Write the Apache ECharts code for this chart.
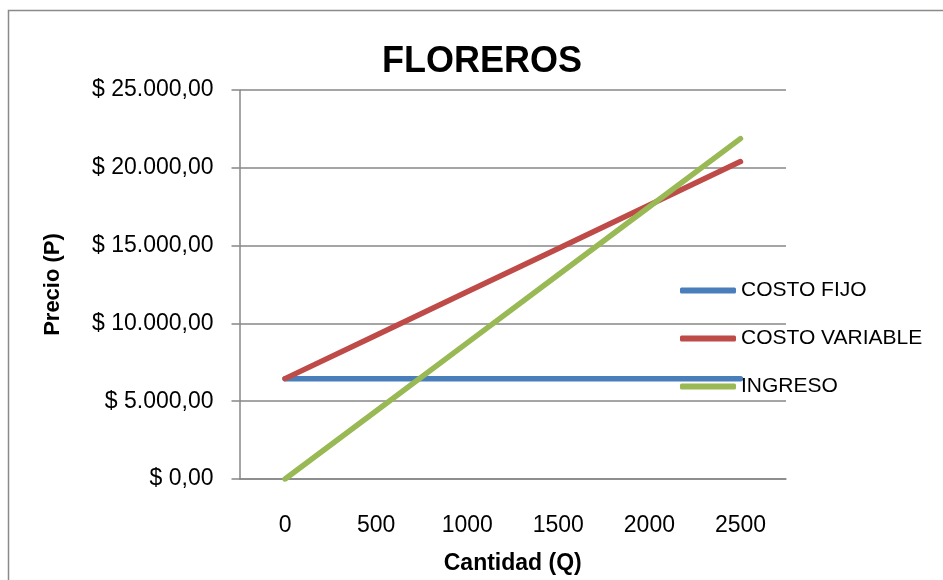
<!DOCTYPE html>
<html>
<head>
<meta charset="utf-8">
<script src="https://cdn.jsdelivr.net/npm/echarts@6/dist/echarts.min.js"></script>
<style>
html,body{margin:0;padding:0;background:#fff;}
#chart{width:943px;height:580px;}
</style>
</head>
<body>
<div id="chart"></div>
<script>
var categories = ['0', '500', '1000', '1500', '2000', '2500'];
var costoFijo = [6450, 6450, 6450, 6450, 6450, 6450];
var costoVariable = [6450, 9240, 12030, 14820, 17610, 20400];
var ingreso = [0, 4375, 8750, 13125, 17500, 21875];
var seriesNames = ['COSTO FIJO', 'COSTO VARIABLE', 'INGRESO'];
var seriesColors = ['#4a7ebb', '#be4b48', '#98b954'];

function fmtMoney(v) {
  var s = String(Math.round(v));
  s = s.replace(/\B(?=(\d{3})+(?!\d))/g, '.');
  return '$ ' + s + ',00';
}

var FONT = 'Liberation Sans';
var GRAY = '#878787';

var chart = echarts.init(document.getElementById('chart'), null, {renderer: 'canvas'});
var option = {
  backgroundColor: '#ffffff',
  animation: false,
  textStyle: {fontFamily: FONT},
  title: {
    text: 'FLOREROS',
    left: 482,
    textAlign: 'center',
    top: 44,
    padding: 0,
    textStyle: {fontFamily: FONT, fontSize: 36, fontWeight: 'bold', color: '#000'}
  },
  legend: {
    orient: 'vertical',
    left: 680,
    top: 280,
    itemWidth: 56,
    itemHeight: 6,
    itemGap: 27,
    icon: 'roundRect',
    padding: 0,
    data: seriesNames,
    textStyle: {fontFamily: FONT, fontSize: 21, lineHeight: 21, color: '#000'}
  },
  grid: {left: 239.5, right: 157, top: 90, bottom: 96.5},
  xAxis: {
    type: 'category',
    data: categories,
    boundaryGap: true,
    name: 'Cantidad (Q)',
    nameLocation: 'middle',
    nameGap: 73,
    nameTextStyle: {fontFamily: FONT, fontSize: 23, fontWeight: 'bold', color: '#000'},
    axisLine: {show: true, lineStyle: {color: GRAY, width: 1.5}},
    axisTick: {show: false},
    axisLabel: {margin: 35, fontFamily: FONT, fontSize: 23, color: '#000'},
    splitLine: {show: false}
  },
  yAxis: {
    type: 'value',
    min: 0,
    max: 25000,
    interval: 5000,
    name: 'Precio (P)',
    nameLocation: 'middle',
    nameRotate: 90,
    nameGap: 176,
    nameTextStyle: {fontFamily: FONT, fontSize: 22, fontWeight: 'bold', color: '#000'},
    axisLine: {show: true, lineStyle: {color: GRAY, width: 1.5}},
    axisTick: {show: true, inside: false, length: 8, lineStyle: {color: GRAY, width: 1.5}},
    axisLabel: {margin: 26, fontFamily: FONT, fontSize: 23, color: '#000', formatter: fmtMoney},
    splitLine: {show: true, lineStyle: {color: GRAY, width: 1.5}}
  },
  graphic: [{
    type: 'rect',
    shape: {x: 8.5, y: 10.5, width: 1200, height: 1200},
    style: {fill: null, stroke: '#8a8a8a', lineWidth: 1.5},
    silent: true,
    z: -1
  }],
  series: [
    {name: seriesNames[0], type: 'line', data: costoFijo, symbol: 'none', color: seriesColors[0],
     lineStyle: {width: 5.5, cap: 'round', join: 'round'}},
    {name: seriesNames[1], type: 'line', data: costoVariable, symbol: 'none', color: seriesColors[1],
     lineStyle: {width: 5.5, cap: 'round', join: 'round'}},
    {name: seriesNames[2], type: 'line', data: ingreso, symbol: 'none', color: seriesColors[2],
     lineStyle: {width: 5.5, cap: 'round', join: 'round'}}
  ]
};
chart.setOption(option);
</script>
</body>
</html>
